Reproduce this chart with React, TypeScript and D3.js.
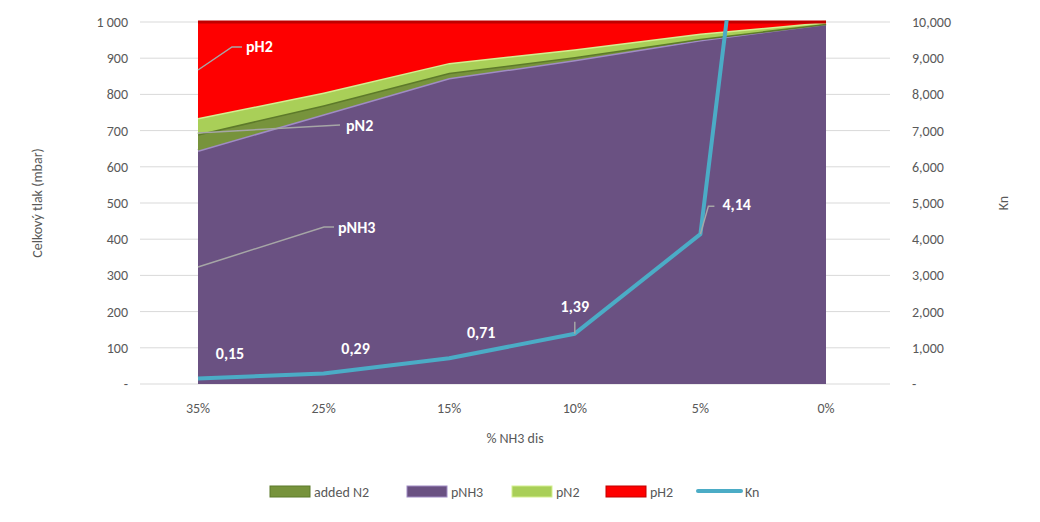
import React from 'react';
import * as d3 from 'd3';

const categories = ['35%', '25%', '15%', '10%', '5%', '0%'];
const pNH3 = [645, 745, 845, 895, 950, 995];
const addedN2 = [45, 25, 15, 8, 4, 0];
const pN2 = [45, 35, 27, 22, 14, 5];
const kn = [0.15, 0.29, 0.71, 1.39, 4.14, 32.4];
const knLabels = ['0,15', '0,29', '0,71', '1,39', '4,14'];
const leftTicks = [0, 100, 200, 300, 400, 500, 600, 700, 800, 900, 1000];
const rightTicks = [0, 1000, 2000, 3000, 4000, 5000, 6000, 7000, 8000, 9000, 10000];

const W = 1040, H = 522;
const plotL = 140, plotR = 890, plotT = 22, plotB = 384;

export default function App() {
  const x = d3.scalePoint<string>().domain(categories).range([198, 826]);
  const y = d3.scaleLinear().domain([0, 1000]).range([plotB, plotT]);
  const yR = d3.scaleLinear().domain([0, 10000]).range([plotB, plotT]);

  const rows = categories.map((c, i) => ({
    c,
    pNH3: pNH3[i],
    addedN2: addedN2[i],
    pN2: pN2[i],
    pH2: 1000 - pNH3[i] - addedN2[i] - pN2[i],
  }));
  const stack = d3.stack<any>().keys(['pNH3', 'addedN2', 'pN2', 'pH2'])(rows);
  const colors: Record<string, string> = { pNH3: '#6a5182', addedN2: '#77933c', pN2: '#a9cf58', pH2: '#fe0000' };
  const edges: Record<string, string> = { pNH3: '#a08cc4', addedN2: '#5d7a2a', pN2: '#d4ef90', pH2: '#c00000' };
  const area = d3.area<any>().x((d) => x(d.data.c)!).y0((d) => y(d[0])).y1((d) => y(d[1]));
  const top = d3.line<any>().x((d) => x(d.data.c)!).y((d) => y(d[1]));
  const knLine = d3.line<number>().x((_, i) => x(categories[i])!).y((d) => yR(d * 1000));
  const fmtL = (v: number) => (v === 0 ? '-' : v >= 1000 ? '1 000' : String(v));
  const fmtR = (v: number) => (v === 0 ? '-' : d3.format(',')(v));
  const font = 'Calibri, Carlito, "Liberation Sans", sans-serif';

  const callouts = [
    { text: 'pH2', pts: [[198, 70], [232, 47], [242, 47]], tx: 246, ty: 52 },
    { text: 'pN2', pts: [[198, 133], [340, 125]], tx: 346, ty: 131 },
    { text: 'pNH3', pts: [[198, 267], [324, 227], [334, 227]], tx: 338, ty: 233 },
  ];
  const legend = [
    { k: 'addedN2', t: 'added N2', x: 270 },
    { k: 'pNH3', t: 'pNH3', x: 407 },
    { k: 'pN2', t: 'pN2', x: 512 },
    { k: 'pH2', t: 'pH2', x: 606 },
  ];

  return (
    <svg width={W} height={H} style={{ fontFamily: font, display: 'block', margin: -8 }}>
      <rect width={W} height={H} fill="#fff" />
      {leftTicks.map((t) => (
        <g key={t}>
          <line x1={plotL} x2={plotR} y1={y(t)} y2={y(t)} stroke="#d9d9d9" />
          <text x={128} y={y(t) + 5} textAnchor="end" fontSize={14} fill="#595959">{fmtL(t)}</text>
        </g>
      ))}
      {rightTicks.map((t) => (
        <text key={t} x={912} y={yR(t) + 5} fontSize={14} fill="#595959">{fmtR(t)}</text>
      ))}
      <defs>
        <clipPath id="plot"><rect x={plotL} y={plotT - 2} width={plotR - plotL} height={plotB - plotT + 2} /></clipPath>
      </defs>
      {stack.map((s) => (
        <g key={s.key}>
          <path d={area(s)!} fill={colors[s.key]} />
          <path d={top(s)!} fill="none" stroke={edges[s.key]} strokeWidth={3} />
        </g>
      ))}
      <g clipPath="url(#plot)">
        <path d={knLine(kn)!} fill="none" stroke="#4bacc6" strokeWidth={4} strokeLinejoin="round" />
      </g>
      {callouts.map((c) => (
        <g key={c.text}>
          <polyline points={c.pts.map((p) => p.join(',')).join(' ')} fill="none" stroke="#a6a6a6" strokeWidth={1.5} />
          <text x={c.tx} y={c.ty} fontSize={16} fontWeight="bold" fill="#fff">{c.text}</text>
        </g>
      ))}
      {knLabels.map((l, i) => {
        const px = x(categories[i])!;
        const py = yR(kn[i] * 1000);
        const lx = i === 4 ? px + 22 : i === 3 ? px : px + 32;
        const ly = i === 4 ? py - 24 : i === 3 ? py - 22 : py - 20;
        return (
          <g key={l}>
            {i === 4 && <polyline points={`${px},${py} ${px + 8},${py - 28} ${px + 14},${py - 28}`} fill="none" stroke="#a6a6a6" strokeWidth={1.5} />}
            {i === 3 && <line x1={px} y1={py} x2={px} y2={py - 12} stroke="#a6a6a6" strokeWidth={1.5} />}
            <text x={i === 4 ? lx : lx} y={ly} textAnchor={i === 4 ? 'start' : 'middle'} fontSize={16} fontWeight="bold" fill="#fff">{l}</text>
          </g>
        );
      })}
      {categories.map((c) => (
        <text key={c} x={x(c)} y={413} textAnchor="middle" fontSize={14} fill="#595959">{c}</text>
      ))}
      <text x={515} y={443} textAnchor="middle" fontSize={14} fill="#595959">% NH3 dis</text>
      <text transform={`translate(42,${(plotT + plotB) / 2}) rotate(-90)`} textAnchor="middle" fontSize={14} fill="#595959">Celkový tlak (mbar)</text>
      <text transform={`translate(1008,${(plotT + plotB) / 2}) rotate(-90)`} textAnchor="middle" fontSize={14} fill="#595959">Kn</text>
      {legend.map((l) => (
        <g key={l.k}>
          <rect x={l.x} y={486} width={40} height={11} fill={colors[l.k]} stroke={edges[l.k]} />
          <text x={l.x + 44} y={497} fontSize={14} fill="#595959">{l.t}</text>
        </g>
      ))}
      <line x1={698} x2={741} y1={491} y2={491} stroke="#4bacc6" strokeWidth={4} strokeLinecap="round" />
      <text x={745} y={497} fontSize={14} fill="#595959">Kn</text>
    </svg>
  );
}
